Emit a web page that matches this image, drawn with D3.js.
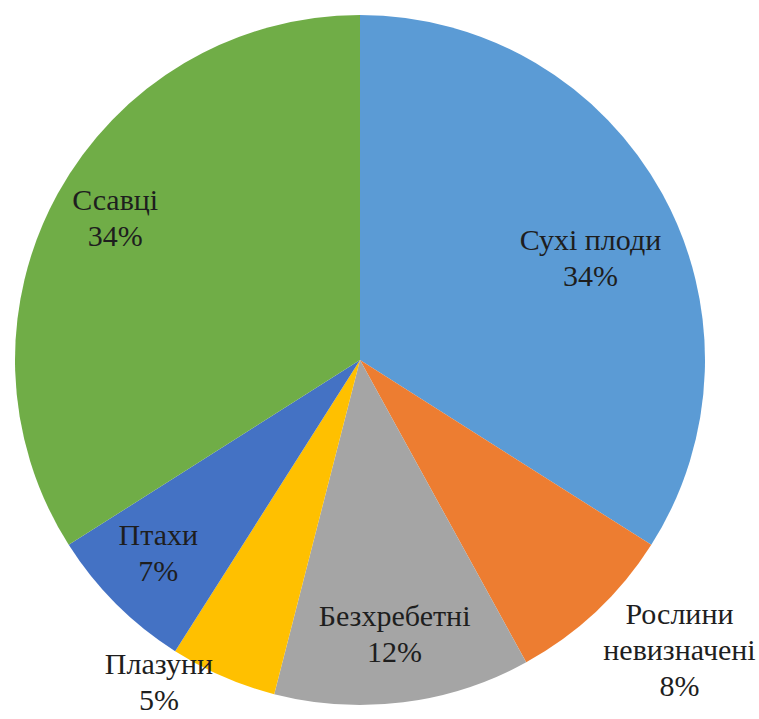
<!DOCTYPE html>
<html>
<head>
<meta charset="utf-8">
<script src="https://cdn.jsdelivr.net/npm/d3@7"></script>
<style>
  @font-face { font-family: "LabelSerif"; src: local("Liberation Serif"), local("LiberationSerif"), local("Tinos"), local("Times New Roman"); }
</style>
</head>
<body style="margin:0">
<svg id="chart" width="759" height="719"></svg>
<script>
// Diet composition, share of items by category (clockwise from 12 o'clock)
const categories = ["Сухі плоди", "Рослини невизначені", "Безхребетні", "Плазуни", "Птахи", "Ссавці"];
const values = [34, 8, 12, 5, 7, 34];
// Label lines for each slice
const labelLines = [
  ["Сухі плоди", "34%"],
  ["Рослини", "невизначені", "8%"],
  ["Безхребетні", "12%"],
  ["Плазуни", "5%"],
  ["Птахи", "7%"],
  ["Ссавці", "34%"]
];

const colors = ["#5B9BD5", "#ED7D31", "#A5A5A5", "#FFC000", "#4472C4", "#70AD47"];
// label placement: distance from centre as a fraction of radius, and angular nudge (degrees)
const labelRadius = [0.73, 1.25, 0.80, 1.10, 0.81, 0.82];
const labelNudge = [5, -4.6, 0, 8.6, 1.2, 1.3];

const svg = d3.select("#chart");
const cx = 360, cy = 360, R = 345;

const pie = d3.pie().sort(null).value(d => d.value);
const arcs = pie(categories.map((c, i) => ({ name: c, value: values[i], i })));
const arc = d3.arc().innerRadius(0).outerRadius(R);

svg.append("g")
  .attr("transform", `translate(${cx},${cy})`)
  .selectAll("path")
  .data(arcs)
  .enter().append("path")
  .attr("d", arc)
  .attr("fill", (d, i) => colors[i]);

const fontSize = 30, lineH = 36;
arcs.forEach((d, i) => {
  const a = (d.startAngle + d.endAngle) / 2 + labelNudge[i] * Math.PI / 180;
  const r = R * labelRadius[i];
  const x = cx + Math.sin(a) * r;
  const y = cy - Math.cos(a) * r;
  const lines = labelLines[i];
  const y0 = y - (lines.length - 1) * lineH / 2 + fontSize * 0.33;
  lines.forEach((ln, k) => {
    svg.append("text")
      .attr("x", x)
      .attr("y", y0 + k * lineH)
      .attr("text-anchor", "middle")
      .style("font-family", "\"Liberation Serif\", LabelSerif, Tinos, \"Times New Roman\", serif")
      .style("font-size", fontSize + "px")
      .attr("fill", "#1e1e1e")
      .text(ln);
  });
});
</script>
</body>
</html>
